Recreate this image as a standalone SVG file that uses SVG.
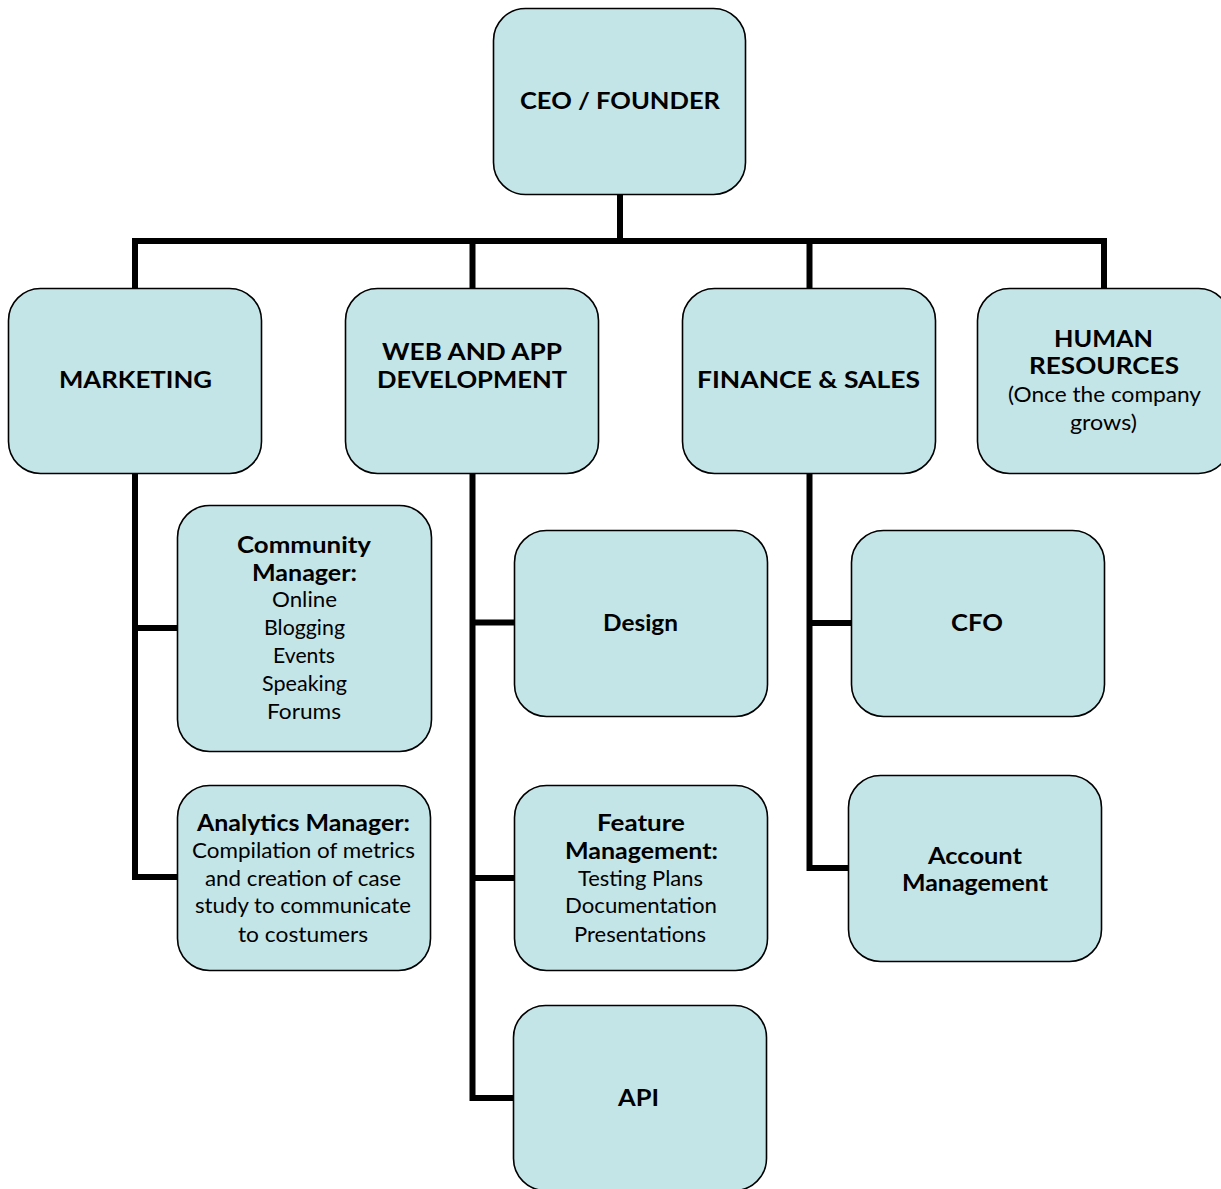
<svg xmlns="http://www.w3.org/2000/svg" width="1221" height="1189" viewBox="0 0 1221 1189">
<style>
.box{fill:#c4e5e8;stroke:#000;stroke-width:1.6}
.b{font-family:Lato,"Liberation Sans",sans-serif;font-weight:bold;font-size:23px;fill:#000;text-anchor:middle}
.r{font-family:Lato,"Liberation Sans",sans-serif;font-size:21px;fill:#000;text-anchor:middle}
.conn{fill:none;stroke:#000;stroke-width:6;stroke-linejoin:miter}
</style>
<rect width="1221" height="1189" fill="#fff"/>
<g id="connectors" class="conn">
<path d="M620 194 V241"/>
<path d="M135 288 V241 H1104 V288"/>
<path d="M472.5 241 V288"/>
<path d="M809.5 241 V288"/>
<path d="M135 473 V877 H177"/>
<path d="M135 628 H177"/>
<path d="M472.5 473 V1098 H513"/>
<path d="M472.5 622.5 H514"/>
<path d="M472.5 878 H514"/>
<path d="M809.5 473 V868 H848"/>
<path d="M809.5 623 H851"/>
</g>
<g id="ceo"><rect class="box" x="493.5" y="8.5" width="252" height="186" rx="32"/><text class="b" x="620" y="109" textLength="200" lengthAdjust="spacingAndGlyphs">CEO / FOUNDER</text></g>
<g id="marketing"><rect class="box" x="8.5" y="288.5" width="253" height="185" rx="32"/><text class="b" x="135.5" y="388" textLength="153" lengthAdjust="spacingAndGlyphs">MARKETING</text></g>
<g id="webapp"><rect class="box" x="345.5" y="288.5" width="253" height="185" rx="32"/><text class="b" x="472" y="360" textLength="180" lengthAdjust="spacingAndGlyphs">WEB AND APP</text><text class="b" x="472" y="388" textLength="190" lengthAdjust="spacingAndGlyphs">DEVELOPMENT</text></g>
<g id="finance"><rect class="box" x="682.5" y="288.5" width="253" height="185" rx="32"/><text class="b" x="808.5" y="388" textLength="223" lengthAdjust="spacingAndGlyphs">FINANCE &amp; SALES</text></g>
<g id="hr"><rect class="box" x="977.5" y="288.5" width="253" height="185" rx="32"/><text class="b" x="1103.5" y="347" textLength="99" lengthAdjust="spacingAndGlyphs">HUMAN</text><text class="b" x="1104" y="374" textLength="150" lengthAdjust="spacingAndGlyphs">RESOURCES</text><text class="r" x="1104.5" y="402" textLength="193" lengthAdjust="spacingAndGlyphs">(Once the company</text><text class="r" x="1103.5" y="430" textLength="67" lengthAdjust="spacingAndGlyphs">grows)</text></g>
<g id="community"><rect class="box" x="177.5" y="505.5" width="254" height="246" rx="32"/><text class="b" x="304" y="553" textLength="134" lengthAdjust="spacingAndGlyphs">Community</text><text class="b" x="304.5" y="581" textLength="105" lengthAdjust="spacingAndGlyphs">Manager:</text><text class="r" x="304.5" y="607" textLength="65" lengthAdjust="spacingAndGlyphs">Online</text><text class="r" x="304.5" y="635" textLength="81" lengthAdjust="spacingAndGlyphs">Blogging</text><text class="r" x="304" y="663" textLength="62" lengthAdjust="spacingAndGlyphs">Events</text><text class="r" x="304.5" y="691" textLength="85" lengthAdjust="spacingAndGlyphs">Speaking</text><text class="r" x="304" y="719" textLength="74" lengthAdjust="spacingAndGlyphs">Forums</text></g>
<g id="analytics"><rect class="box" x="177.5" y="785.5" width="253" height="185" rx="32"/><text class="b" x="303.5" y="831" textLength="213" lengthAdjust="spacingAndGlyphs">Analytics Manager:</text><text class="r" x="303.5" y="858" textLength="223" lengthAdjust="spacingAndGlyphs">Compilation of metrics</text><text class="r" x="303" y="886" textLength="196" lengthAdjust="spacingAndGlyphs">and creation of case</text><text class="r" x="303" y="913" textLength="216" lengthAdjust="spacingAndGlyphs">study to communicate</text><text class="r" x="303" y="942" textLength="130" lengthAdjust="spacingAndGlyphs">to costumers</text></g>
<g id="design"><rect class="box" x="514.5" y="530.5" width="253" height="186" rx="32"/><text class="b" x="640.5" y="631" textLength="75" lengthAdjust="spacingAndGlyphs">Design</text></g>
<g id="feature"><rect class="box" x="514.5" y="785.5" width="253" height="185" rx="32"/><text class="b" x="641" y="831" textLength="88" lengthAdjust="spacingAndGlyphs">Feature</text><text class="b" x="641.5" y="859" textLength="153" lengthAdjust="spacingAndGlyphs">Management:</text><text class="r" x="640.5" y="886" textLength="125" lengthAdjust="spacingAndGlyphs">Testing Plans</text><text class="r" x="641" y="913" textLength="152" lengthAdjust="spacingAndGlyphs">Documentation</text><text class="r" x="640" y="942" textLength="132" lengthAdjust="spacingAndGlyphs">Presentations</text></g>
<g id="api"><rect class="box" x="513.5" y="1005.5" width="253" height="185" rx="32"/><text class="b" x="638.5" y="1106" textLength="41" lengthAdjust="spacingAndGlyphs">API</text></g>
<g id="cfo"><rect class="box" x="851.5" y="530.5" width="253" height="186" rx="32"/><text class="b" x="977" y="631" textLength="52" lengthAdjust="spacingAndGlyphs">CFO</text></g>
<g id="account"><rect class="box" x="848.5" y="775.5" width="253" height="186" rx="32"/><text class="b" x="975" y="864" textLength="94" lengthAdjust="spacingAndGlyphs">Account</text><text class="b" x="975" y="891" textLength="146" lengthAdjust="spacingAndGlyphs">Management</text></g>
</svg>
